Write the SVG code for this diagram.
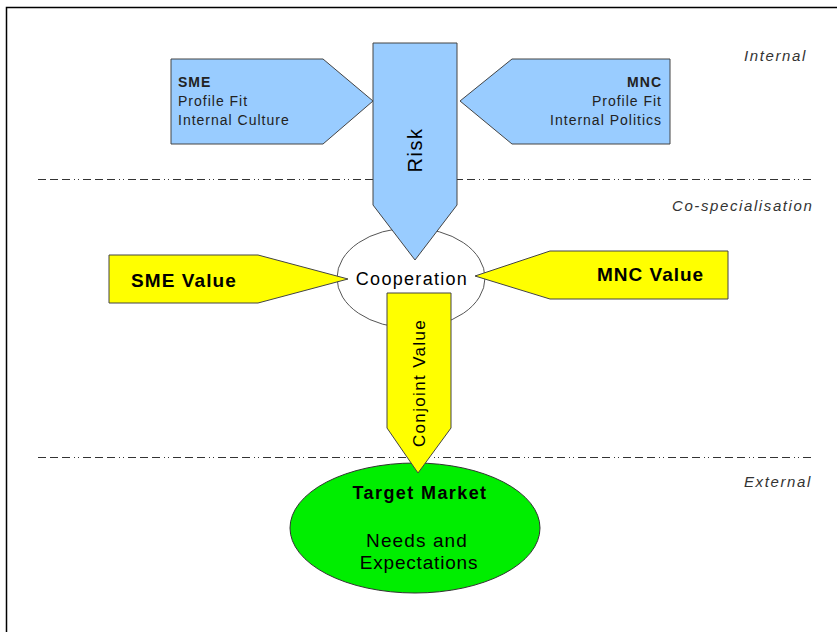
<svg xmlns="http://www.w3.org/2000/svg" width="837" height="632" viewBox="0 0 837 632">
  <style>
    .blue { fill: #99ccff; stroke: #444; stroke-width: 1; }
    .yellow { fill: #ffff00; stroke: #444; stroke-width: 1; }
    .sep { stroke: #333; stroke-width: 1; stroke-dasharray: 8 4 8 4 8 4 1 3 1 4; fill: none; }
    .zone { font-family: "Liberation Sans", Arial, sans-serif; font-size: 15px; font-style: italic; fill: #333; letter-spacing: 1.6px; }
    .t { font-family: "Liberation Sans", Arial, sans-serif; fill: #000; }
    .box { font-family: "Liberation Sans", Arial, sans-serif; font-size: 14px; fill: #222; letter-spacing: 1px; }
  </style>
  <rect x="0" y="0" width="837" height="632" fill="#fff"/>
  <!-- page frame -->
  <rect x="6.5" y="7.5" width="900" height="700" fill="none" stroke="#000" stroke-width="1.5"/>

  <!-- zone separators and labels -->
  <g id="zones">
    <line class="sep" x1="38" y1="179.5" x2="815" y2="179.5"/>
    <line class="sep" x1="38" y1="457.5" x2="815" y2="457.5"/>
    <text class="zone" x="744" y="61">Internal</text>
    <text class="zone" x="672" y="211">Co-specialisation</text>
    <text class="zone" x="744" y="487">External</text>
  </g>

  <g id="cooperation">
    <ellipse cx="411" cy="278" rx="74" ry="50" fill="#fff" stroke="#555" stroke-width="1"/>
    <text class="t" x="412" y="285" font-size="18" letter-spacing="1.3" text-anchor="middle">Cooperation</text>
  </g>

  <g id="target-market">
    <ellipse cx="415" cy="528" rx="125" ry="65" fill="#00ee00" stroke="#333" stroke-width="1"/>
    <text class="t" x="420" y="499" font-size="18" font-weight="bold" letter-spacing="1.4" text-anchor="middle">Target Market</text>
    <text class="t" x="417" y="547" font-size="19" letter-spacing="1.1" text-anchor="middle">Needs and</text>
    <text class="t" x="419" y="569" font-size="19" letter-spacing="0.8" text-anchor="middle">Expectations</text>
  </g>

  <g id="sme-internal">
    <polygon class="blue" points="171,59 323,59 373,101 323,144 171,144"/>
    <text class="box" x="178" y="87" font-weight="bold" fill="#000">SME</text>
    <text class="box" x="178" y="106">Profile Fit</text>
    <text class="box" x="178" y="125">Internal Culture</text>
  </g>

  <g id="mnc-internal">
    <polygon class="blue" points="670,59 512,59 460,101 512,144 670,144"/>
    <text class="box" x="662" y="87" font-weight="bold" fill="#000" text-anchor="end">MNC</text>
    <text class="box" x="662" y="106" text-anchor="end">Profile Fit</text>
    <text class="box" x="662" y="125" text-anchor="end">Internal Politics</text>
  </g>

  <g id="risk">
    <polygon class="blue" points="373,43 457,43 457,205 415,260 373,205"/>
    <text class="t" transform="translate(422,150) rotate(-90)" font-size="20" letter-spacing="1.5" text-anchor="middle">Risk</text>
  </g>

  <g id="sme-value">
    <polygon class="yellow" points="109,255 258,255 348,279 258,303 109,303"/>
    <text class="t" x="131" y="287" font-size="19" font-weight="bold" letter-spacing="1.1">SME Value</text>
  </g>

  <g id="mnc-value">
    <polygon class="yellow" points="728,251 550,251 475,276 550,299 728,299"/>
    <text class="t" x="597" y="281" font-size="19" font-weight="bold" letter-spacing="1">MNC Value</text>
  </g>

  <g id="conjoint-value">
    <polygon class="yellow" points="387,293 451,293 451,428 418,473 387,428"/>
    <text class="t" transform="translate(425,383) rotate(-90)" font-size="17" letter-spacing="1.35" text-anchor="middle">Conjoint Value</text>
  </g>
</svg>
